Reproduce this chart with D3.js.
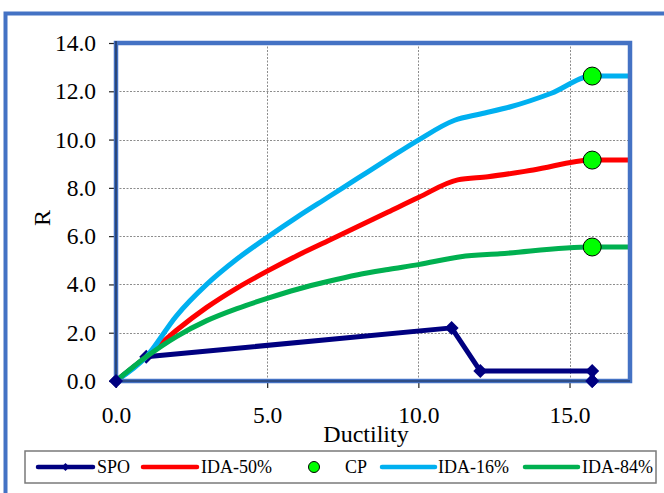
<!DOCTYPE html>
<html>
<head>
<meta charset="utf-8">
<script src="https://cdn.jsdelivr.net/npm/d3@7"></script>
<style>
  html, body { margin: 0; padding: 0; background: #fff; }
  svg { display: block; }
  text { font-family: "Liberation Serif", "Times New Roman", Times, serif; fill: #000; }
</style>
</head>
<body>
<svg id="chart" width="664" height="493"></svg>
<script>
// ---- data ----
const xTicks = [0, 5, 10, 15];
const yTicks = [0, 2, 4, 6, 8, 10, 12, 14];

const spoX = [0, 1, 11.1, 12.05, 15.75, 15.75];
const spoY = [0, 1, 2.2, 0.41, 0.41, 0];

const ida50X = [0, 1, 2, 3, 4, 5, 6, 7, 8, 9, 10, 11.3, 12.3, 13.8, 15.75, 17];
const ida50Y = [0, 1, 2.1, 3.05, 3.85, 4.55, 5.2, 5.8, 6.4, 7.0, 7.6, 8.33, 8.46, 8.74, 9.15, 9.15];

const ida16X = [0, 1, 2, 3, 4, 5, 6, 7, 8, 9, 10, 11.2, 12.05, 13.05, 14.4, 15.75, 17];
const ida16Y = [0, 1, 2.7, 4.0, 5.05, 5.95, 6.8, 7.6, 8.4, 9.2, 9.98, 10.8, 11.06, 11.36, 11.92, 12.63, 12.63];

const ida84X = [0, 1, 2, 3, 4, 5, 6, 7, 8, 9, 10, 11.4, 12.7, 15.75, 17];
const ida84Y = [0, 1, 1.84, 2.5, 3.0, 3.42, 3.8, 4.12, 4.4, 4.62, 4.82, 5.15, 5.27, 5.55, 5.55];

const cpX = [15.75, 15.75, 15.75];
const cpY = [12.63, 9.15, 5.55];

const legendLabels = ["SPO", "IDA-50%", "CP", "IDA-16%", "IDA-84%"];

// ---- setup ----
const svg = d3.select("#chart");
const L = 116, R = 630, T = 43, B = 381;
const x = d3.scaleLinear().domain([0, 17]).range([L, R]);
const y = d3.scaleLinear().domain([0, 14]).range([B, T]);

const C = { spo: "#000080", red: "#FF0000", blue: "#00B0F0", green: "#00B050", cp: "#00FF00", frame: "#4472C4" };

// outer chart border
svg.append("rect").attr("x", 5.5).attr("y", 13.5).attr("width", 720).attr("height", 620)
  .attr("fill", "none").attr("stroke", C.frame).attr("stroke-width", 4);

// gridlines
const grid = svg.append("g").attr("stroke", "#8c8c8c").attr("stroke-width", 1).attr("stroke-dasharray", "2,1.5");
yTicks.filter(d => d > 0 && d < 14).forEach(d => {
  grid.append("line").attr("x1", L).attr("x2", R).attr("y1", Math.round(y(d)) + 0.5).attr("y2", Math.round(y(d)) + 0.5);
});
xTicks.filter(d => d > 0).forEach(d => {
  grid.append("line").attr("y1", T).attr("y2", B).attr("x1", Math.round(x(d)) + 0.5).attr("x2", Math.round(x(d)) + 0.5);
});

// axes
const fmt = d3.format(".1f");
const ya = svg.append("g").attr("transform", `translate(${L},0)`)
  .call(d3.axisLeft(y).tickValues(yTicks).tickFormat(fmt).tickSize(7).tickPadding(13));
const xa = svg.append("g").attr("transform", `translate(0,${B})`)
  .call(d3.axisBottom(x).tickValues(xTicks).tickFormat(fmt).tickSize(7).tickPadding(18));
[ya, xa].forEach(g => {
  g.attr("font-family", null).attr("font-size", null);
  g.select(".domain").remove();
  g.selectAll(".tick line").attr("stroke", "#222").attr("stroke-width", 1.2);
  g.selectAll(".tick text").style("font-size", "23.5px").attr("fill", "#000");
});

// clip
svg.append("clipPath").attr("id", "clip").append("rect")
  .attr("x", L - 10).attr("y", T - 10).attr("width", R - L + 10).attr("height", B - T + 20);
const plot = svg.append("g").attr("clip-path", "url(#clip)");

const zip = (xs, ys) => xs.map((v, i) => [v, ys[i]]);
const smooth = d3.line().x(d => x(d[0])).y(d => y(d[1])).curve(d3.curveMonotoneX);
const straight = d3.line().x(d => x(d[0])).y(d => y(d[1]));

// SPO
plot.append("path").attr("d", straight(zip(spoX, spoY))).attr("fill", "none")
  .attr("stroke", C.spo).attr("stroke-width", 5).attr("stroke-linejoin", "round");
const diamond = (s) => `M0,${-s}L${s},0L0,${s}L${-s},0Z`;
plot.selectAll(".spoM").data(zip(spoX, spoY)).enter().append("path")
  .attr("transform", d => `translate(${x(d[0])},${y(d[1])})`)
  .attr("d", diamond(7)).attr("fill", C.spo);

// IDA curves
[[ida50X, ida50Y, C.red], [ida16X, ida16Y, C.blue], [ida84X, ida84Y, C.green]].forEach(([xs, ys, c]) => {
  plot.append("path").attr("d", smooth(zip(xs, ys))).attr("fill", "none")
    .attr("stroke", c).attr("stroke-width", 5).attr("stroke-linecap", "round").attr("stroke-linejoin", "round");
});

// plot frame
svg.append("rect").attr("x", L).attr("y", T).attr("width", R - L).attr("height", B - T)
  .attr("fill", "none").attr("stroke", C.frame).attr("stroke-width", 4.5);
svg.append("line").attr("x1", L).attr("x2", L).attr("y1", T - 2).attr("y2", B).attr("stroke", "#1a2a4a").attr("stroke-width", 1.2);
svg.append("line").attr("x1", L).attr("x2", R).attr("y1", B).attr("y2", B).attr("stroke", "#1a2a4a").attr("stroke-width", 1.2);

// SPO markers on the axis drawn above the frame
svg.selectAll(".spoTop").data(zip(spoX, spoY).filter(d => d[1] === 0)).enter().append("path")
  .attr("transform", d => `translate(${x(d[0])},${y(d[1])})`)
  .attr("d", diamond(7)).attr("fill", C.spo);

// CP markers
svg.selectAll(".cp").data(zip(cpX, cpY)).enter().append("circle")
  .attr("cx", d => x(d[0])).attr("cy", d => y(d[1])).attr("r", 9)
  .attr("fill", C.cp).attr("stroke", "#000").attr("stroke-width", 1);

// axis titles
svg.append("text").attr("x", 366).attr("y", 442).attr("text-anchor", "middle")
  .style("font-size", "24px").text("Ductility");
svg.append("text").attr("transform", "translate(50,218) rotate(-90)").attr("text-anchor", "middle")
  .style("font-size", "24px").text("R");

// legend
const lg = svg.append("g");
lg.append("rect").attr("x", 25).attr("y", 451).attr("width", 631).attr("height", 32)
  .attr("fill", "#fff").attr("stroke", "#7a7a7a").attr("stroke-width", 1.5);
const ly = 467, lty = 473;
const items = [
  { kind: "line", c: C.spo, x1: 38, x2: 93, tx: 97, marker: true },
  { kind: "line", c: C.red, x1: 143, x2: 197, tx: 201 },
  { kind: "dot", c: C.cp, cx: 314, tx: 345 },
  { kind: "line", c: C.blue, x1: 382, x2: 435, tx: 438 },
  { kind: "line", c: C.green, x1: 525, x2: 578, tx: 582 }
];
items.forEach((it, i) => {
  if (it.kind === "line") {
    lg.append("line").attr("x1", it.x1).attr("x2", it.x2).attr("y1", ly).attr("y2", ly)
      .attr("stroke", it.c).attr("stroke-width", 4.5).attr("stroke-linecap", "round");
    if (it.marker) lg.append("path").attr("transform", `translate(${(it.x1 + it.x2) / 2},${ly})`).attr("d", diamond(4)).attr("fill", it.c);
  } else {
    lg.append("circle").attr("cx", it.cx).attr("cy", ly).attr("r", 5.5).attr("fill", it.c).attr("stroke", "#000").attr("stroke-width", 1);
  }
  lg.append("text").attr("x", it.tx).attr("y", lty).style("font-size", "18px").text(legendLabels[i]);
});
</script>
</body>
</html>
